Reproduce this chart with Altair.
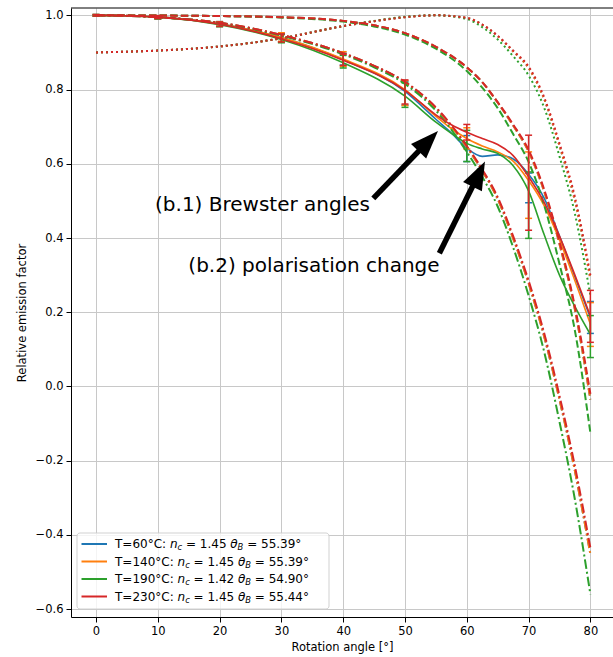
import math
import altair as alt
import pandas as pd

# ---------------- data ----------------
angles_theory = [0, 10, 20, 30, 40, 45, 50, 55, 60, 62.5, 65, 67.5, 70, 72.5, 75, 77.5, 80]
angles_meas = [0, 10, 20, 30, 40, 50, 55, 57.5, 60, 62.5, 65, 67.5, 70, 72.5, 75, 77.5, 80]
angles_err = [0, 10, 20, 30, 40, 50, 60, 70, 80]

temps = [60, 140, 190, 230]
n_c = [1.45, 1.45, 1.42, 1.45]
theta_B = [55.39, 55.39, 54.90, 55.44]
colors = ["#1f77b4", "#ff7f0e", "#2ca02c", "#d62728"]

# measured (solid)
meas_60 = [1.000, 0.995, 0.977, 0.940, 0.880, 0.795, 0.720, 0.683, 0.642, 0.620, 0.624, 0.613, 0.572, 0.508, 0.405, 0.295, 0.186]
meas_140 = [1.000, 0.995, 0.977, 0.940, 0.882, 0.800, 0.728, 0.695, 0.668, 0.648, 0.632, 0.607, 0.555, 0.488, 0.395, 0.285, 0.168]
meas_190 = [1.000, 0.995, 0.975, 0.935, 0.872, 0.782, 0.712, 0.682, 0.655, 0.640, 0.628, 0.595, 0.527, 0.410, 0.300, 0.215, 0.140]
meas_230 = [1.000, 0.995, 0.976, 0.937, 0.879, 0.798, 0.732, 0.705, 0.685, 0.668, 0.652, 0.622, 0.565, 0.497, 0.405, 0.300, 0.190]

# error bars (lower / upper)
err_lo_60 = [0.998, 0.991, 0.971, 0.929, 0.866, 0.758, 0.606, 0.495, 0.143]
err_hi_60 = [1.002, 0.999, 0.983, 0.951, 0.898, 0.822, 0.676, 0.575, 0.229]
err_lo_140 = [0.998, 0.991, 0.971, 0.930, 0.862, 0.757, 0.640, 0.453, 0.108]
err_hi_140 = [1.002, 0.999, 0.983, 0.953, 0.902, 0.824, 0.697, 0.632, 0.226]
err_lo_190 = [0.998, 0.990, 0.969, 0.926, 0.858, 0.752, 0.606, 0.399, 0.078]
err_hi_190 = [1.002, 0.998, 0.981, 0.948, 0.892, 0.818, 0.690, 0.578, 0.191]
err_lo_230 = [0.998, 0.991, 0.970, 0.928, 0.865, 0.761, 0.664, 0.421, 0.119]
err_hi_230 = [1.002, 0.999, 0.982, 0.950, 0.895, 0.826, 0.706, 0.677, 0.259]

# model, dashed
dash_60 = [1.0, 0.9995, 0.998, 0.995, 0.985, 0.973, 0.952, 0.915, 0.860, 0.820, 0.765, 0.703, 0.633, 0.527, 0.384, 0.207, -0.035]
dash_140 = [1.0, 0.9995, 0.998, 0.995, 0.985, 0.973, 0.952, 0.915, 0.860, 0.820, 0.765, 0.703, 0.633, 0.527, 0.384, 0.207, -0.035]
dash_190 = [1.0, 0.9995, 0.998, 0.994, 0.983, 0.970, 0.948, 0.910, 0.850, 0.805, 0.750, 0.680, 0.605, 0.490, 0.330, 0.150, -0.125]
dash_230 = [1.0, 0.9995, 0.998, 0.995, 0.985, 0.973, 0.952, 0.915, 0.860, 0.820, 0.766, 0.706, 0.637, 0.532, 0.390, 0.215, -0.020]

# model, dash-dot
dd_60 = [1.0, 0.995, 0.980, 0.947, 0.898, 0.864, 0.820, 0.750, 0.645, 0.581, 0.505, 0.399, 0.278, 0.136, -0.035, -0.228, -0.452]
dd_140 = [1.0, 0.995, 0.980, 0.947, 0.898, 0.864, 0.820, 0.750, 0.645, 0.581, 0.505, 0.399, 0.278, 0.136, -0.035, -0.228, -0.452]
dd_190 = [1.0, 0.995, 0.979, 0.945, 0.895, 0.860, 0.815, 0.743, 0.632, 0.565, 0.485, 0.375, 0.245, 0.095, -0.095, -0.305, -0.560]
dd_230 = [1.0, 0.995, 0.980, 0.947, 0.898, 0.864, 0.821, 0.752, 0.648, 0.585, 0.510, 0.405, 0.285, 0.145, -0.025, -0.215, -0.435]

# model, dotted
dot_60 = [0.900, 0.905, 0.916, 0.938, 0.971, 0.984, 0.995, 1.000, 0.993, 0.975, 0.944, 0.903, 0.858, 0.775, 0.648, 0.500, 0.290]
dot_140 = [0.900, 0.905, 0.916, 0.938, 0.971, 0.984, 0.995, 1.000, 0.993, 0.975, 0.944, 0.903, 0.858, 0.775, 0.648, 0.500, 0.290]
dot_190 = [0.900, 0.905, 0.916, 0.938, 0.971, 0.985, 0.996, 1.000, 0.990, 0.968, 0.935, 0.890, 0.838, 0.752, 0.620, 0.465, 0.245]
dot_230 = [0.900, 0.905, 0.916, 0.938, 0.971, 0.984, 0.995, 1.000, 0.993, 0.975, 0.945, 0.905, 0.862, 0.780, 0.655, 0.510, 0.300]

# annotations (data coordinates: text anchor, arrow tail, arrow tip)
ann_text = ["(b.1) Brewster angles", "(b.2) polarisation change"]
ann_text_x = [9.55, 14.94]
ann_text_y = [0.472, 0.308]
arrow_tail_x = [44.87, 55.56]
arrow_tail_y = [0.507, 0.359]
arrow_tip_x = [55.34, 62.94]
arrow_tip_y = [0.688, 0.606]

# ---------------- layout ----------------
X_MIN, X_MAX = -4.05, 83.66
Y_MIN, Y_MAX = -0.621, 1.0197
W, H = 542, 609
PX_X = W / (X_MAX - X_MIN)
PX_Y = H / (Y_MAX - Y_MIN)


def to_data(px, py):
    return X_MIN + px / PX_X, Y_MAX - py / PX_Y


x_scale = alt.Scale(domain=[X_MIN, X_MAX], nice=False, zero=False)
y_scale = alt.Scale(domain=[Y_MIN, Y_MAX], nice=False, zero=False)
x_axis = alt.Axis(values=list(range(0, 81, 10)), format="d", title="Rotation angle [°]")
y_axis = alt.Axis(values=[-0.6, -0.4, -0.2, 0.0, 0.2, 0.4, 0.6, 0.8, 1.0], format=".1f",
                  title="Relative emission factor", titlePadding=8)


def X(f="x"):
    return alt.X(f"{f}:Q", scale=x_scale, axis=x_axis)


def Y(f="y"):
    return alt.Y(f"{f}:Q", scale=y_scale, axis=y_axis)


def line_layer(xs, ys, color, dash=None, width=1.5):
    df = pd.DataFrame({"x": xs, "y": ys})
    kw = dict(color=color, strokeWidth=width, interpolate="monotone")
    if dash:
        kw["strokeDash"] = dash
    return alt.Chart(df).mark_line(**kw).encode(x=X(), y=Y())


def err_layers(lo, hi, color):
    df = pd.DataFrame({"x": angles_err, "lo": lo, "hi": hi})
    bar = alt.Chart(df).mark_rule(color=color, strokeWidth=1.5).encode(
        x=X(), y=Y("lo"), y2=alt.Y2("hi:Q"))
    c1 = alt.Chart(df).mark_tick(color=color, orient="horizontal", size=7, thickness=1.5,
                                 opacity=1).encode(x=X(), y=Y("lo"))
    c2 = alt.Chart(df).mark_tick(color=color, orient="horizontal", size=7, thickness=1.5,
                                 opacity=1).encode(x=X(), y=Y("hi"))
    return [bar, c1, c2]


DASHED = [7.4, 3.2]
DASHDOT = [9.5, 3, 2, 3]
DOTTED = [2, 3]

meas_all = [meas_60, meas_140, meas_190, meas_230]
lo_all = [err_lo_60, err_lo_140, err_lo_190, err_lo_230]
hi_all = [err_hi_60, err_hi_140, err_hi_190, err_hi_230]
dash_all = [dash_60, dash_140, dash_190, dash_230]
dd_all = [dd_60, dd_140, dd_190, dd_230]
dot_all = [dot_60, dot_140, dot_190, dot_230]

layers = []
for i, c in enumerate(colors):
    layers.append(line_layer(angles_meas, meas_all[i], c, None, 1.6))
    layers.extend(err_layers(lo_all[i], hi_all[i], c))
    layers.append(line_layer(angles_theory, dash_all[i], c, DASHED, 2))
    layers.append(line_layer(angles_theory, dd_all[i], c, DASHDOT, 2))
    layers.append(line_layer(angles_theory, dot_all[i], c, DOTTED, 2))

# annotation text
txt_df = pd.DataFrame({"x": ann_text_x, "y": ann_text_y, "t": ann_text})
layers.append(alt.Chart(txt_df).mark_text(align="left", baseline="alphabetic", font="DejaVu Sans",
                                          fontSize=20, color="black").encode(x=X(), y=Y(), text="t:N"))

# arrows
HEAD_LEN = 28
shafts = []
heads = []
for tx, ty, hx, hy in zip(arrow_tail_x, arrow_tail_y, arrow_tip_x, arrow_tip_y):
    dx = (hx - tx) * PX_X
    dy = -(hy - ty) * PX_Y
    L = math.hypot(dx, dy)
    ux, uy = dx / L, dy / L
    ex = hx - 0.55 * HEAD_LEN * ux / PX_X
    ey = hy + 0.55 * HEAD_LEN * uy / PX_Y
    shafts.append({"x": tx, "y": ty, "x2": ex, "y2": ey})
    heads.append({"x": hx, "y": hy, "ang": math.degrees(math.atan2(dx, -dy))})

layers.append(alt.Chart(pd.DataFrame(shafts)).mark_rule(color="black", strokeWidth=5.5).encode(
    x=X(), y=Y(), x2=alt.X2("x2:Q"), y2=alt.Y2("y2:Q")))
layers.append(alt.Chart(pd.DataFrame(heads)).mark_point(
    shape="M0,0L0.375,1L-0.375,1Z", filled=True, size=(2 * HEAD_LEN) ** 2, color="black",
    opacity=1, strokeWidth=0).encode(x=X(), y=Y(), angle=alt.Angle("ang:Q", scale=None)))

# legend (drawn inside the plot, lower left)
bx0, by0 = to_data(6, 525)
bx1, by1 = to_data(258, 601)
box_df = pd.DataFrame({"x": [bx0], "x2": [bx1], "y": [by0], "y2": [by1]})
layers.append(alt.Chart(box_df).mark_rect(fill="white", fillOpacity=0.8, stroke="#cccccc",
                                          strokeOpacity=0.9, strokeWidth=1, cornerRadius=3).encode(
    x=X(), x2=alt.X2("x2:Q"), y=Y(), y2=alt.Y2("y2:Q")))

EM = {' ': 0.318, '=': 0.838, 'T': 0.611, 'C': 0.698, ':': 0.337, '°': 0.5, '.': 0.318,
      'n': 0.634, 'c': 0.550, 'B': 0.686, 'θ': 0.602}
for d in "0123456789":
    EM[d] = 0.636


def tw(s, fs):
    return sum(EM.get(ch, 0.6) for ch in s) * fs


FS = 12
FSS = 8.4
segs = []
samples = []
for i, (T, n, th) in enumerate(zip(temps, n_c, theta_B)):
    cy = 536 + 17.5 * i
    x = 44
    s = "T=%d°C:" % T
    segs.append((s, x, cy, "normal"))
    x += tw(s + " ", FS)
    segs.append(("n", x, cy, "italic"))
    x += tw("n", FS)
    segs.append(("c", x, cy + 3, "sub"))
    x += tw("c", FSS) + tw(" ", FS)
    s = "= %.2f" % n
    segs.append((s, x, cy, "normal"))
    x += tw(s + " ", FS)
    segs.append(("θ", x, cy, "italic"))
    x += tw("θ", FS)
    segs.append(("B", x, cy + 3, "sub"))
    x += tw("B", FSS) + tw(" ", FS)
    segs.append(("= %.2f°" % th, x, cy, "normal"))
    sx0, sy = to_data(10.5, cy)
    sx1, _ = to_data(36, cy)
    samples.append({"x": sx0, "x2": sx1, "y": sy, "c": colors[i]})

for s in samples:
    layers.append(alt.Chart(pd.DataFrame([s])).mark_rule(color=s["c"], strokeWidth=2).encode(
        x=X(), x2=alt.X2("x2:Q"), y=Y()))

seg_rows = []
for t, px, py, kind in segs:
    dx_, dy_ = to_data(px, py)
    seg_rows.append({"x": dx_, "y": dy_, "t": t, "k": kind})
seg_df = pd.DataFrame(seg_rows)
for kind, style, fs in [("normal", "normal", FS), ("italic", "italic", FS), ("sub", "italic", FSS)]:
    layers.append(alt.Chart(seg_df[seg_df.k == kind]).mark_text(
        align="left", baseline="middle", font="DejaVu Sans", fontSize=fs, fontStyle=style,
        color="black").encode(x=X(), y=Y(), text="t:N"))

# top spine
layers.append(alt.Chart(pd.DataFrame({"a": [0]})).mark_rule(color="black", strokeWidth=1).encode(
    x=alt.value(0), x2=alt.value(W), y=alt.value(0)))

chart = alt.layer(*layers).properties(
    width=W, height=H, autosize=alt.AutoSizeParams(type="none"),
    padding={"left": 71, "top": 8, "right": 0, "bottom": 40},
    background="white",
).configure_view(stroke=None).configure_axis(
    labelFont="DejaVu Sans", labelFontSize=11.5, labelColor="black",
    titleFont="DejaVu Sans", titleFontSize=11.5, titleFontWeight="normal", titleColor="black",
    domainColor="black", domainWidth=1, tickColor="black", tickSize=5, tickWidth=1,
    gridColor="#c8c8c8", gridWidth=1, labelPadding=3, titlePadding=5,
)

chart.save("out.html", embed_options={"renderer": "svg", "actions": False})
